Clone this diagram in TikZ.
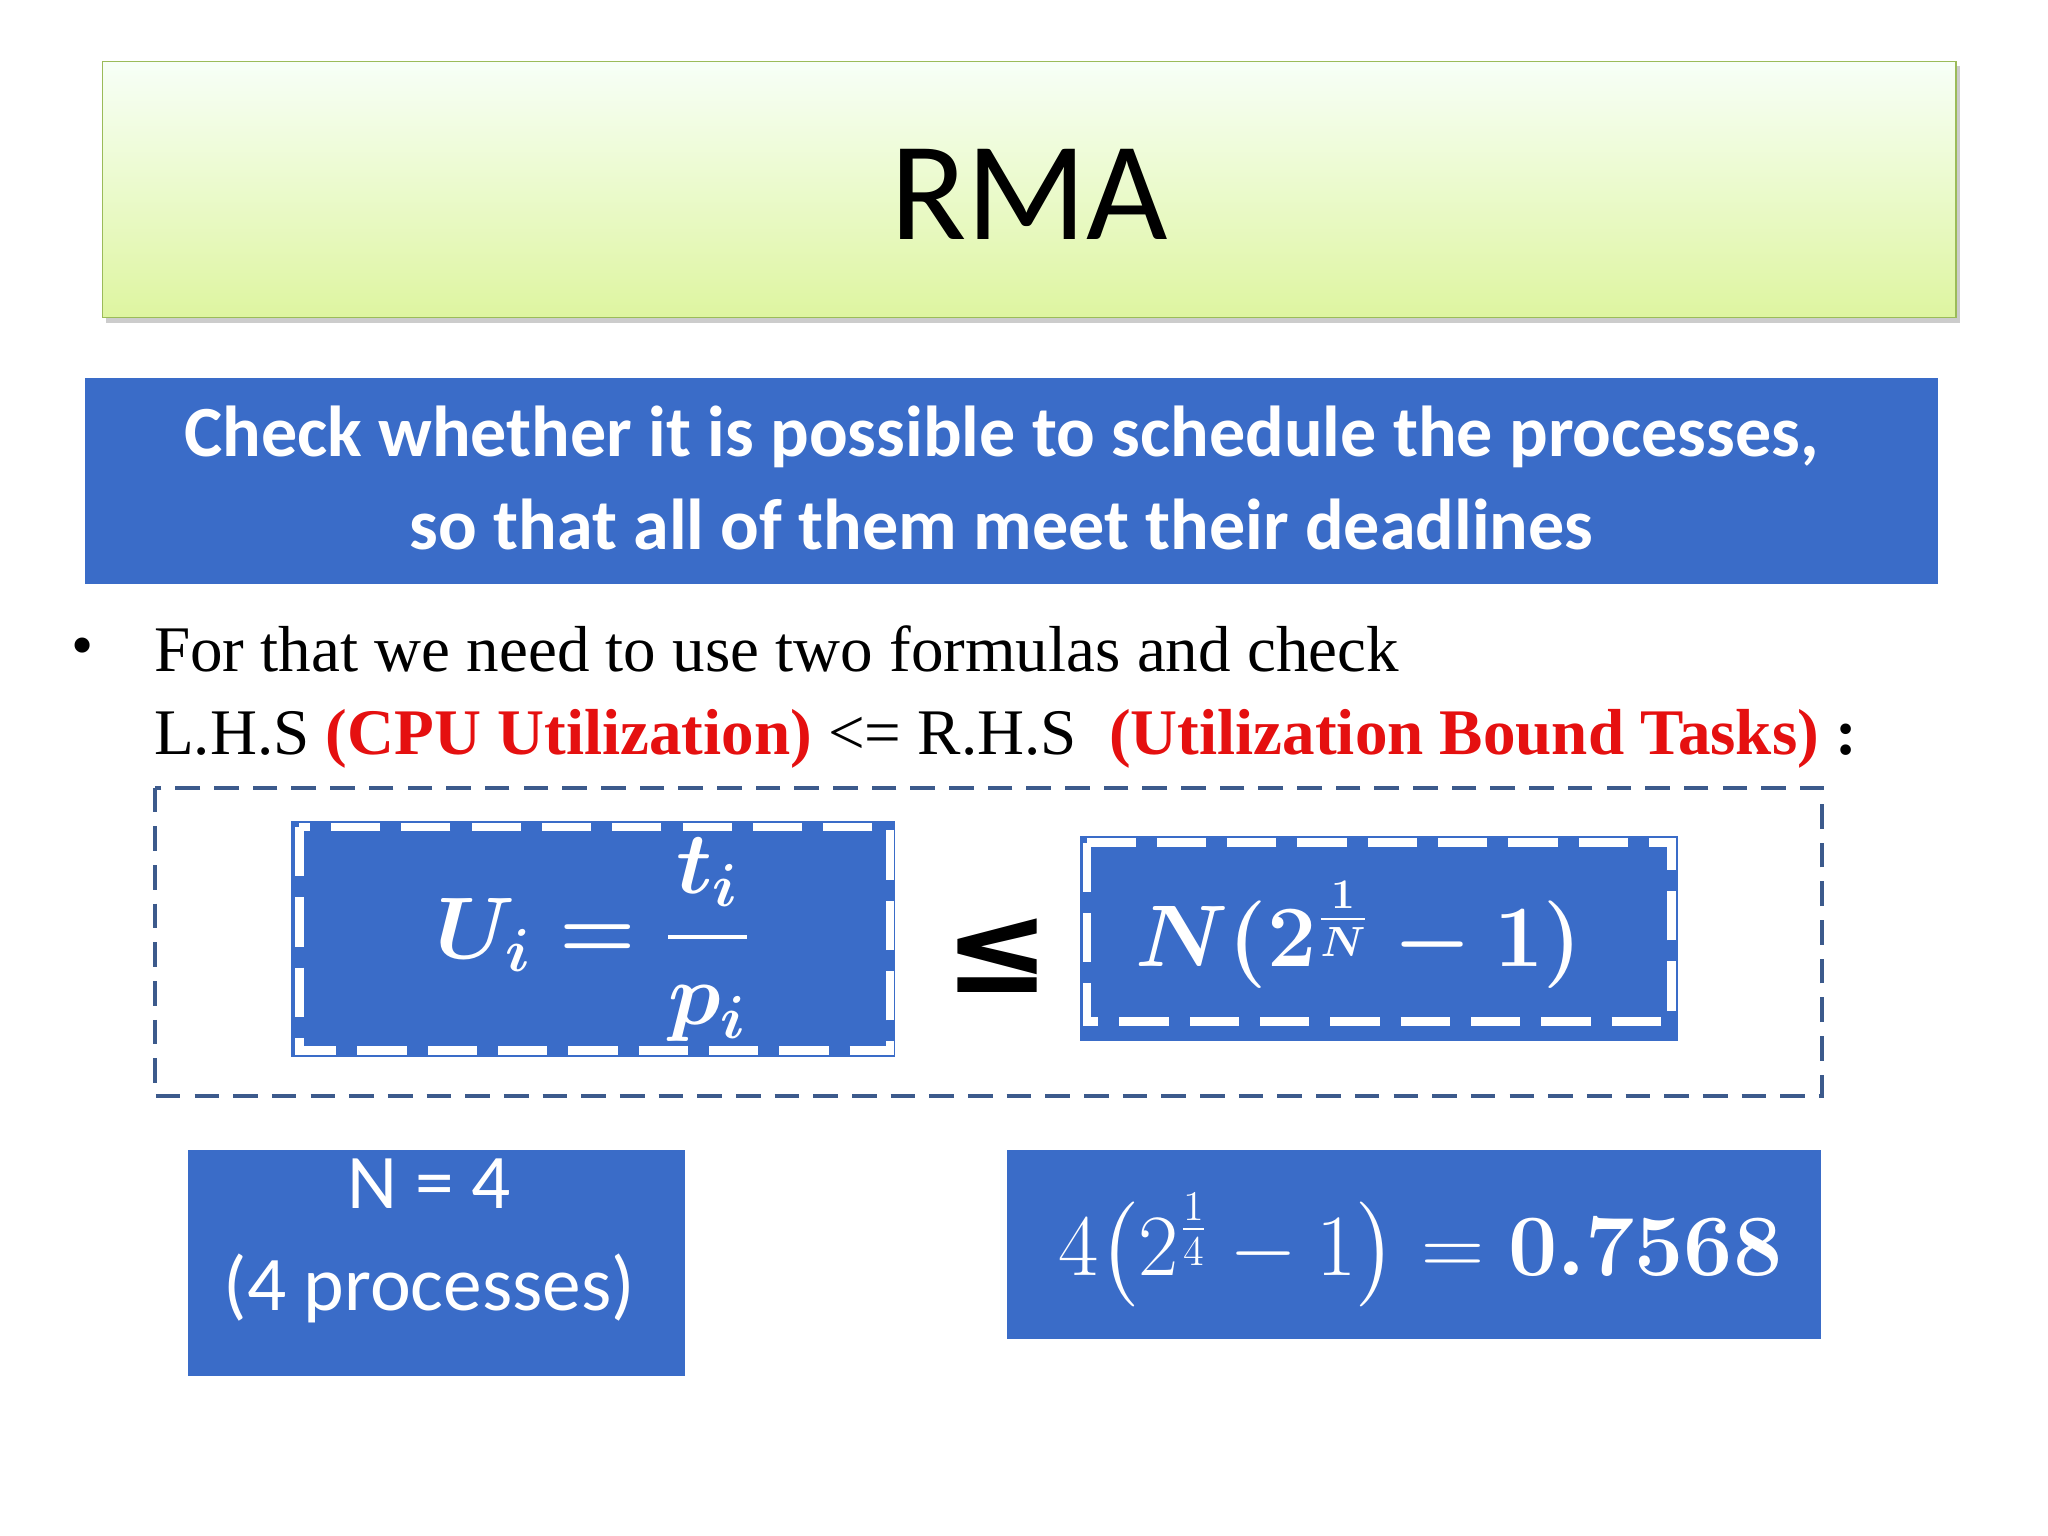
\documentclass[tikz,border=0pt]{standalone}
\usepackage{fontspec}
\setmainfont{Liberation Serif}
\setsansfont{Carlito}
\newfontfamily\symf{DejaVu Sans}
\usepackage{amsmath}
\begin{document}
\begin{tikzpicture}[x=0.013128cm,y=-0.013128cm]
\definecolor{bb}{HTML}{3A6CC8}
\definecolor{rr}{HTML}{E51010}
\tikzset{bluebox/.style={fill=bb,draw=none},
 wdash/.style={draw=white,line width=2.5pt,dash pattern=on 14pt off 6pt},
 wt/.style={text=white,font=\sffamily}}
\useasboundingbox (0,0) rectangle (1560,1170);
\fill[white] (0,0) rectangle (1560,1170);
% title
\fill[gray!40] (81,50) rectangle (1493,246);
\shade[top color=green!3!white,bottom color={rgb,255:red,222;green,245;blue,160},draw={rgb,255:red,155;green,187;blue,89}] (78,47) rectangle (1490,242);
\node[font=\sffamily\fontsize{40}{44}\selectfont] (title) at (784,148) {RMA};
% blue banner
\fill[bb] (65,288) rectangle (1476,445);
\node[wt,font=\sffamily\bfseries\fontsize{20.5}{26.5}\selectfont,align=center] (q) at (763,364) {Check whether it is possible to schedule the processes,\\so that all of them meet their deadlines};
% bullet
\node[font=\fontsize{18}{22}\selectfont] (bul) at (63,497) {•};
\node[anchor=west,font=\fontsize{18.5}{23.5}\selectfont,align=left] (txt) at (108,531) {For that we need to use two formulas and check\\L.H.S \textcolor{rr}{\textbf{(CPU Utilization)}} <= R.H.S\ \ \textcolor{rr}{\textbf{(Utilization Bound Tasks)}} \textbf{:}};
% dashed container
\draw[draw={rgb,255:red,60;green,90;blue,140},line width=1.2pt,dash pattern=on 7pt off 4pt] (118,600) rectangle (1388,835);
% formula 1
\fill[bb] (222,625) rectangle (682,805);
\draw[wdash] (228,630) rectangle (678,800);
\node[text=white,font=\fontsize{24}{28}\selectfont] (f1) at (452,716) {$\boldsymbol{U_i=\dfrac{t_i}{p_i}}$};
\node[font=\symf\bfseries\fontsize{36}{40}\selectfont] (le) at (760,728) {≤};
% formula 2
\fill[bb] (823,637) rectangle (1278,793);
\draw[wdash] (828,642) rectangle (1273,778);
\node[text=white,font=\fontsize{24}{28}\selectfont] (f2) at (1035,712) {$\boldsymbol{N(2^{\frac{1}{N}}-1)}$};
% N=4
\fill[bb] (143,876) rectangle (522,1048);
\node[wt,font=\sffamily\fontsize{22}{29}\selectfont,align=center] (n4) at (327,945) {N = 4\\(4 processes)};
% result
\fill[bb] (767,876) rectangle (1387,1020);
\node[text=white,font=\fontsize{24}{28}\selectfont] (res) at (1082,952) {$4\big(2^{\frac{1}{4}}-1\big)=\boldsymbol{0.7568}$};
\end{tikzpicture}
\end{document}
